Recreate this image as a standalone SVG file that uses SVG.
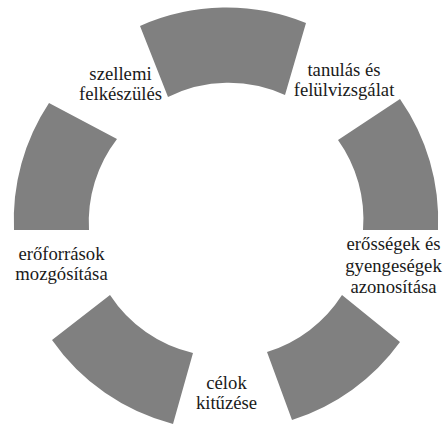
<svg xmlns="http://www.w3.org/2000/svg" width="446" height="425" viewBox="0 0 446 425">
<style>
.seg{fill:#808080;stroke:none}
.lbl{font-family:"Liberation Serif","Tinos","Noto Serif","Times New Roman",Times,"DejaVu Serif",serif;font-size:18.7px;fill:#1a1a1a;text-anchor:middle}
</style>
<rect width="446" height="425" fill="#ffffff"/>
<g id="ring">
<path id="seg-top" class="seg" d="M140 26 A212 212 0 0 1 306 23 L285 95 A136 136 0 0 0 168 97 Z"/>
<path id="seg-right" class="seg" d="M400 99 A212 212 0 0 1 438 230 L363 230 A136 136 0 0 0 338 140 Z"/>
<path id="seg-lower-right" class="seg" d="M400 342 A212 212 0 0 1 292 420 L267 352 A136 136 0 0 0 342 295 Z"/>
<path id="seg-lower-left" class="seg" d="M173 424 A212 212 0 0 1 52 340 L110 295 A136 136 0 0 0 193 353 Z"/>
<path id="seg-left" class="seg" d="M14 230 A212 212 0 0 1 49 103 L117 139 A136 136 0 0 0 89 230 Z"/>
</g>
<g id="connectors"/>
<g id="node-szellemi">
<text class="lbl" x="120.5" y="79.5">szellemi</text>
<text class="lbl" x="120.5" y="99.5">felkészülés</text>
</g>
<g id="node-tanulas">
<text class="lbl" x="344" y="75.5">tanulás és</text>
<text class="lbl" x="344" y="95.5">felülvizsgálat</text>
</g>
<g id="node-erossegek">
<text class="lbl" x="393.5" y="250">erősségek és</text>
<text class="lbl" x="393.5" y="271.5">gyengeségek</text>
<text class="lbl" x="393.5" y="293">azonosítása</text>
</g>
<g id="node-celok">
<text class="lbl" x="226.5" y="388.5">célok</text>
<text class="lbl" x="226.5" y="408.5">kitűzése</text>
</g>
<g id="node-eroforrasok">
<text class="lbl" x="61.5" y="260">erőforrások</text>
<text class="lbl" x="61.5" y="280">mozgósítása</text>
</g>
</svg>
